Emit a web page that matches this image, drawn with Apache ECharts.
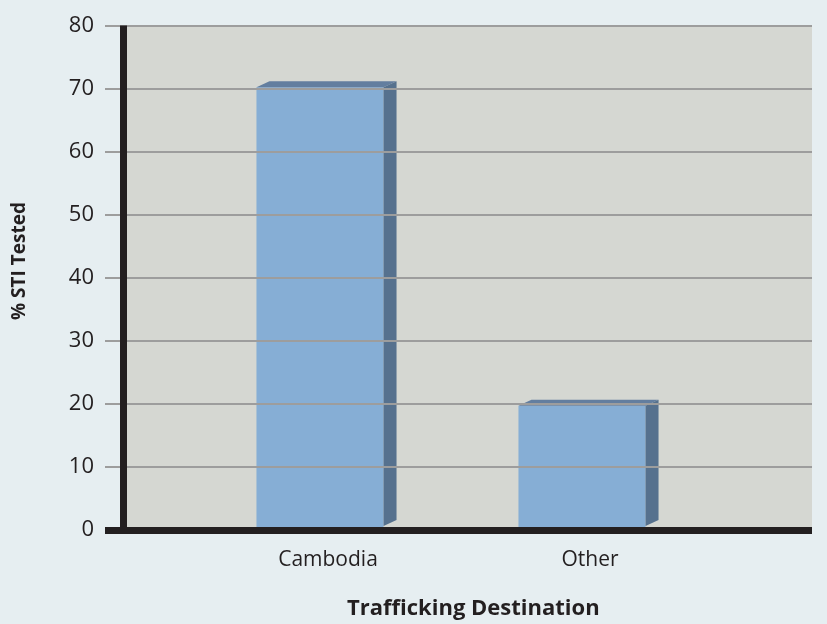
<!DOCTYPE html>
<html>
<head>
<meta charset="utf-8">
<script src="https://cdn.jsdelivr.net/npm/echarts@6/dist/echarts.min.js"></script>
<style>
html,body{margin:0;padding:0;background:#e6eef1;}
#chart{width:827px;height:624px;}
</style>
</head>
<body>
<div id="chart"></div>
<script>
var categories = ['Cambodia', 'Other'];
var values = [70.2, 19.7];
var yTicks = [0, 10, 20, 30, 40, 50, 60, 70, 80];
var xTitle = 'Trafficking Destination';
var yTitle = '% STI Tested';

var chart = echarts.init(document.getElementById('chart'));
var FONT = '"Open Sans", "Noto Sans", sans-serif';
var TOP = 25.5, BOTTOM = 94;

function renderBar(params, api) {
  var v = api.value(1);
  var c = api.coord([api.value(0), v]);
  var base = api.coord([api.value(0), 0]);
  var band = api.size([1, 0])[0];
  var w = band * 0.485;
  var dx = 13, dy = 6;
  var x0 = c[0] - w / 2 - 8;
  var x1 = x0 + w;
  var yt = c[1], yb = base[1];
  return {
    type: 'group',
    children: [
      { type: 'rect', shape: { x: x0, y: yt, width: w, height: yb - yt },
        style: { fill: '#86aed5' } },
      { type: 'polygon', shape: { points: [[x0, yt], [x0 + dx, yt - dy], [x1 + dx, yt - dy], [x1, yt]] },
        style: { fill: '#637e9f' } },
      { type: 'polygon', shape: { points: [[x1, yt], [x1 + dx, yt - dy], [x1 + dx, yb - dy - 4], [x1, yb - 4]] },
        style: { fill: '#56718e' } }
    ]
  };
}

chart.setOption({
  backgroundColor: '#e6eef1',
  animation: false,
  grid: [
    { left: 123, right: 15, top: TOP, bottom: BOTTOM, show: true, backgroundColor: '#d5d7d2', borderWidth: 0, z: -1 },
    { left: 105, right: 15, top: TOP, bottom: BOTTOM },
    { left: 197, right: 106, top: TOP, bottom: BOTTOM }
  ],
  xAxis: [
    { gridIndex: 0, type: 'category', data: categories, show: false },
    { gridIndex: 1, type: 'category', data: categories, z: 5,
      axisLine: { show: true, lineStyle: { color: '#231f20', width: 7, cap: 'butt' } },
      axisTick: { show: false }, axisLabel: { show: false } },
    { gridIndex: 2, type: 'category', data: categories,
      axisLine: { show: false }, axisTick: { show: false },
      axisLabel: { color: '#231f20', fontSize: 21, fontFamily: FONT, margin: 20 } }
  ],
  yAxis: [
    { gridIndex: 0, type: 'value', min: 0, max: 80, show: false },
    { gridIndex: 1, type: 'value', min: 0, max: 80, interval: 10, offset: -18, z: 4,
      axisLine: { show: true, lineStyle: { color: '#231f20', width: 7, cap: 'butt' } },
      axisTick: { show: false },
      axisLabel: { color: '#231f20', fontSize: 22, fontFamily: FONT, margin: 29,
        formatter: function (v) { return yTicks.indexOf(v) >= 0 ? String(v) : ''; } },
      splitLine: { show: true, lineStyle: { color: '#9d9d9d', width: 2 } } },
    { gridIndex: 2, type: 'value', min: 0, max: 80, show: false }
  ],
  graphic: [
    { type: 'text', left: 347, top: 598, z: 10,
      style: { text: xTitle, fill: '#231f20', font: 'bold 22px ' + FONT } },
    { type: 'text', x: 10, y: 261, rotation: Math.PI / 2, z: 10,
      style: { text: yTitle, fill: '#231f20', font: 'bold 19px ' + FONT, align: 'center', verticalAlign: 'top' } }
  ],
  series: [{
    type: 'custom',
    xAxisIndex: 2, yAxisIndex: 2,
    z: 3,
    renderItem: renderBar,
    data: categories.map(function (c, i) { return [i, values[i]]; })
  }]
});
</script>
</body>
</html>
